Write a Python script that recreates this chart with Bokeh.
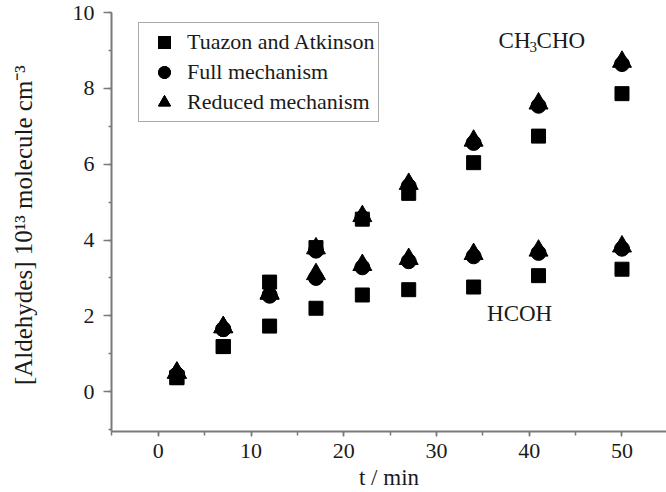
from bokeh.plotting import figure
from bokeh.models import SingleIntervalTicker, Range1d, Legend, LegendItem
from bokeh.core.properties import value
from bokeh.embed import file_html
from bokeh.resources import INLINE

# ---- data ----
t_min = [2, 7, 12, 17, 22, 27, 34, 41, 50]

ch3cho_tuazon = [0.37, 1.19, 2.89, 3.80, 4.55, 5.23, 6.04, 6.74, 7.86]
ch3cho_full = [0.45, 1.65, 2.55, 3.72, 4.58, 5.42, 6.56, 7.54, 8.64]
ch3cho_reduced = [0.50, 1.70, 2.60, 3.78, 4.63, 5.48, 6.62, 7.60, 8.70]

hcoh_tuazon = [0.37, 1.19, 1.73, 2.20, 2.55, 2.69, 2.76, 3.06, 3.23]
hcoh_full = [0.45, 1.65, 2.53, 3.00, 3.28, 3.44, 3.57, 3.66, 3.77]
hcoh_reduced = [0.50, 1.70, 2.58, 3.10, 3.34, 3.50, 3.63, 3.72, 3.83]

series_labels = ["Tuazon and Atkinson", "Full mechanism", "Reduced mechanism"]
x_label = "t / min"
y_label = "[Aldehydes] 10\u00b9\u00b3  molecule cm\u207b\u00b3"

FONT = "Liberation Serif"
TXT = "#1a1a1a"
AX = "#7a7a7a"

p = figure(width=666, height=492, output_backend="svg", toolbar_location=None,
           x_range=Range1d(-5.05, 54.8), y_range=Range1d(-1.05, 10),
           min_border_left=111, min_border_right=0, min_border_top=12,
           min_border_bottom=0)
p.outline_line_color = None
p.xgrid.grid_line_color = None
p.ygrid.grid_line_color = None
p.background_fill_color = "white"

p.xaxis.ticker = SingleIntervalTicker(interval=10, num_minor_ticks=2)
p.yaxis.ticker = SingleIntervalTicker(interval=2, num_minor_ticks=2)

for ax in (p.xaxis, p.yaxis):
    ax.axis_line_color = AX
    ax.axis_line_width = 2
    ax.major_tick_line_color = AX
    ax.minor_tick_line_color = AX
    ax.major_tick_line_width = 1.5
    ax.minor_tick_line_width = 1.5
    ax.major_tick_in = 0
    ax.minor_tick_in = 0
    ax.major_label_text_font = FONT
    ax.major_label_text_font_size = "22px"
    ax.major_label_text_color = TXT
    ax.axis_label_text_font = FONT
    ax.axis_label_text_font_style = "normal"
    ax.axis_label_text_color = TXT

p.xaxis.major_tick_out = 5
p.xaxis.minor_tick_out = 4
p.yaxis.major_tick_out = 8
p.yaxis.minor_tick_out = 3
p.xaxis.major_label_standoff = 7
p.yaxis.major_label_standoff = 9
p.xaxis.axis_label = x_label
p.yaxis.axis_label = y_label
p.xaxis.axis_label_text_font_size = "23px"
p.yaxis.axis_label_text_font_size = "25px"
p.xaxis.axis_label_standoff = 4
p.yaxis.axis_label_standoff = 33

SQ, CI, TR = 14, 15, 19
r_sq1 = p.scatter(t_min, ch3cho_tuazon, marker="square", size=SQ, color="black")
r_sq2 = p.scatter(t_min, hcoh_tuazon, marker="square", size=SQ, color="black")
r_tr1 = p.scatter(t_min, ch3cho_reduced, marker="triangle", size=TR, color="black")
r_tr2 = p.scatter(t_min, hcoh_reduced, marker="triangle", size=TR, color="black")
r_ci1 = p.scatter(t_min, ch3cho_full, marker="circle", size=CI, color="black")
r_ci2 = p.scatter(t_min, hcoh_full, marker="circle", size=CI, color="black")

legend = Legend(items=[
    LegendItem(label=series_labels[0], renderers=[r_sq1, r_sq2]),
    LegendItem(label=series_labels[1], renderers=[r_ci1, r_ci2]),
    LegendItem(label=series_labels[2], renderers=[r_tr1, r_tr2]),
], location=(27, 309))
legend.label_text_font = FONT
legend.label_text_font_size = "22px"
legend.label_text_color = TXT
legend.border_line_color = "#555555"
legend.border_line_width = 1.5
legend.background_fill_color = "white"
legend.background_fill_alpha = 1
legend.padding = 4
legend.spacing = 0
legend.margin = 0
legend.glyph_width = 42
legend.glyph_height = 30
legend.label_standoff = 2
legend.label_height = 20
p.add_layout(legend)

# species annotations
p.text(x=[36.69], y=[9.26], text=["CH"], text_font=value(FONT), text_font_size="23px",
       text_color=TXT, text_baseline="alphabetic", text_align="left")
p.text(x=[36.69], y=[9.26], text=["3"], text_font=value(FONT), text_font_size="15px",
       text_color=TXT, text_baseline="alphabetic", text_align="left", x_offset=31, y_offset=6)
p.text(x=[36.69], y=[9.26], text=["CHO"], text_font=value(FONT), text_font_size="23px",
       text_color=TXT, text_baseline="alphabetic", text_align="left", x_offset=38)
p.text(x=[35.45], y=[2.075], text=["HCOH"], text_font=value(FONT), text_font_size="23px",
       text_color=TXT, text_baseline="alphabetic", text_align="left")

open("out.html", "w").write(file_html(p, INLINE))
